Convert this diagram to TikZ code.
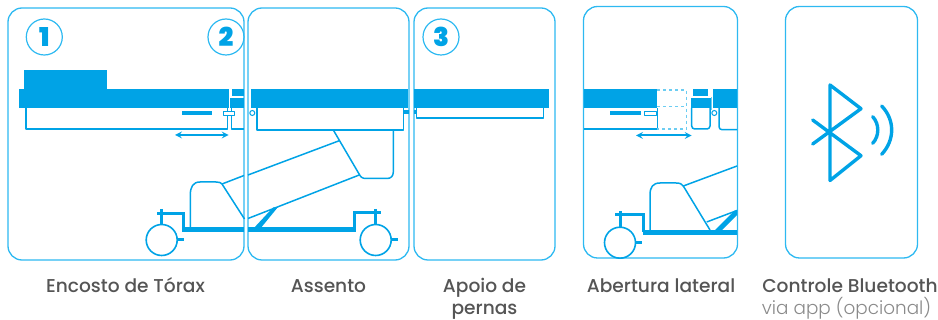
\documentclass[tikz,border=0pt]{standalone}
\usepackage{fontspec}
\setmainfont{Poppins}
\newfontfamily\medfont{Poppins Medium}
\newfontfamily\lightfont{Poppins Light}
\newfontfamily\numfont{Poppins Black}
\usepackage{xcolor}
\usetikzlibrary{positioning}
\definecolor{bedblue}{HTML}{00A3E6}
\definecolor{panelblue}{HTML}{2DB9F1}
\definecolor{dashblue}{HTML}{6CCDF2}
\definecolor{captgray}{HTML}{555555}
\definecolor{subgray}{HTML}{8A8A8A}

\begin{document}
\begin{tikzpicture}[
    x=1pt, y=-1pt,
    panel/.style={draw=panelblue, line width=1.3pt, rounded corners=14pt},
    solidpart/.style={fill=bedblue, draw=none},
    outline/.style={draw=bedblue, line width=1.5pt, line join=round},
    thick part/.style={draw=bedblue, line width=3pt},
    wheel/.style={circle, draw=bedblue, line width=1.6pt, minimum size=31pt, inner sep=0pt},
    badge/.style={circle, draw=panelblue, line width=1.2pt, minimum size=36pt, inner sep=0pt, text=bedblue, font=\numfont\fontsize{26}{26}\selectfont},
    caption/.style={text=captgray, font=\medfont\fontsize{18.6}{20}\selectfont, inner sep=0pt, anchor=base},
    subcaption/.style={text=subgray, font=\lightfont\fontsize{18.4}{20}\selectfont, inner sep=0pt, anchor=base},
    btline/.style={draw=bedblue, line width=3.4pt, line cap=round, line join=round},
    slide/.style={<->, >=stealth, draw=bedblue, line width=2pt}
]
\useasboundingbox (0,0) rectangle (938,320);

% panels
\draw[panel] (8,8) rectangle (244,260);
\draw[panel] (248,8) rectangle (409,260);
\draw[panel] (414,8) rectangle (555,260);
\draw[panel] (583.5,6.5) rectangle (737.5,258);
\draw[panel] (785.5,6.5) rectangle (917.5,258);

\node[badge] (badge1) at (44.3,37) {1};
\node[badge] (badge2) at (226,37) {2};
\node[badge] (badge3) at (441,37) {3};

% backrest section
\fill[solidpart] (24,70.3) rectangle (106.7,89.5);
\fill[solidpart] (19.3,89.3) rectangle (228.7,108.3);
\fill[solidpart] (232.3,89.3) rectangle (244,96);
\fill[solidpart] (229.5,98.3) rectangle (244,108.3);
\draw[outline] (26,108) -- (26,129) -- (227.5,129) -- (227.5,108);
\draw[outline] (231.7,108) -- (231.7,129) -- (244,129);
\fill[solidpart] (182,111.3) rectangle (212.3,115.3);
\draw[outline, fill=white, line width=1pt] (223.3,111.7) rectangle (234.7,115.3);
\draw[slide] (175,135) -- (228.7,135);

% seat section
\fill[solidpart] (250.7,89.3) rectangle (407.7,108.3);
\draw[outline] (257,108) -- (257,130) -- (403.7,130) -- (403.7,108);
\draw[draw=bedblue, fill=white, line width=1pt] (252.3,113) circle (2.5);
\fill[solidpart] (403.7,110) rectangle (409,114);
\fill[solidpart] (414,110) rectangle (417,114);

% leg section
\fill[solidpart] (414,89.3) rectangle (549,108.3);
\draw[outline] (416.7,108) -- (416.7,118) -- (543.3,118) -- (543.3,108);

% lift column
\draw[outline] (333.3,130) -- (358.5,173) .. controls (360.5,177) and (362,178.5) .. (366,178.5)
  -- (387,178.5) .. controls (391,178.5) and (393.3,176) .. (393.3,172) -- (393.3,130);
\draw[outline] (339.3,140.7) -- (248,175);
\draw[outline] (360,174.7) -- (248,218.5);
\draw[outline] (244,175.5) -- (222,184);
\draw[outline] (222,184) -- (244.5,219);
\draw[outline] (190.3,227) -- (190.3,195) .. controls (190.3,187) and (193,182) .. (200,182)
  -- (216,182) .. controls (219,182) and (221,182.5) .. (222,184);
\fill[solidpart] (253,229) -- (273,207.5) -- (278,207) -- (260,229) -- cycle;

% base and wheels
\fill[solidpart] (181.7,226.7) rectangle (244,232.3);
\fill[solidpart] (248,226.7) rectangle (355.5,232.3);
\draw[thick part] (183,228) -- (183,213.3) -- (156.7,213.3);
\draw[thick part] (161.7,209) -- (161.7,225);
\node[wheel] (wheelA) at (161.7,240) {};
\draw[thick part] (wheelA.east) -- ++(6,0);
\draw[thick part] (354,228) -- (354,212.7) -- (380.7,212.7);
\draw[thick part] (375.7,209) -- (375.7,225);
\node[wheel] (wheelB) at (375.7,240) {};
\draw[thick part] (wheelB.east) -- ++(5.5,0);

% lateral opening
\fill[solidpart] (584,89) rectangle (657.3,108.3);
\draw[outline] (584,129) -- (657.3,129) -- (657.3,108);
\fill[solidpart] (610,111) rectangle (641,115.3);
\draw[outline, fill=white, line width=1pt] (644.3,111.5) rectangle (656,115.3);
\draw[draw=dashblue, line width=1.2pt, dashed] (657.3,90) -- (686.7,90) -- (686.7,129) -- (657.3,129);
\draw[draw=dashblue, line width=1.2pt, dashed] (657.3,106.7) -- (686.7,106.7);
\draw[slide] (636,135.5) -- (691.7,135.5);
\fill[solidpart] (693.3,89) rectangle (708.3,96);
\fill[solidpart] (690.7,97.7) rectangle (711,108.3);
\draw[outline, rounded corners=3pt] (691.7,108) -- (691.7,129) -- (710,129) -- (710,108);
\draw[draw=dashblue, line width=1.1pt] (711.5,97) -- (711.5,110);
\draw[draw=bedblue, fill=white, line width=1pt] (714.3,113) circle (2.5);
\fill[solidpart] (712.7,89) rectangle (737,108.3);
\draw[outline, rounded corners=3pt] (719,108) -- (719,129.7) -- (737,129.7);

\draw[outline] (650,230) -- (650,195) .. controls (650,187) and (653,183) .. (660,183)
  -- (676,183) .. controls (680,183) and (682,184) .. (683.3,186);
\draw[outline] (683.3,186) -- (737,166);
\draw[outline] (683.3,186) -- (710,230);
\draw[outline] (706.7,222) -- (737,210.5);
\fill[solidpart] (714,231) -- (734,211) -- (737,210) -- (737,215) -- (721,231) -- cycle;
\fill[solidpart] (643.3,230) rectangle (737,235);
\draw[thick part] (643.5,232) -- (643.5,215) -- (615,215);
\draw[thick part] (620,211) -- (620,227);
\node[wheel] (wheelC) at (620,242.7) {};
\draw[thick part] (wheelC.east) -- ++(6,0);

% bluetooth
\draw[btline] (812.7,120) -- (861,155.7) -- (830,180.5) -- (830,85) -- (861,108.7) -- (812.7,144);
\draw[btline] (872.7,116.7) .. controls (879.5,124) and (879.5,136) .. (872.7,143.3);
\draw[btline] (881.7,106) .. controls (895,120) and (895,140) .. (881.7,154.3);

% captions
\node[caption] (captA) at (125.5,292.5) {Encosto de Tórax};
\node[caption] (captB) at (328.5,292.5) {Assento};
\node[caption] (captC) at (484.5,292.5) {Apoio de};
\node[caption] (captD) at (484.5,314.5) {pernas};
\node[caption] (captE) at (661,292.5) {Abertura lateral};
\node[caption] (captF) at (850,292.5) {Controle Bluetooth};
\node[subcaption] (captG) at (846.5,314.5) {via app (opcional)};
\end{tikzpicture}
\end{document}
